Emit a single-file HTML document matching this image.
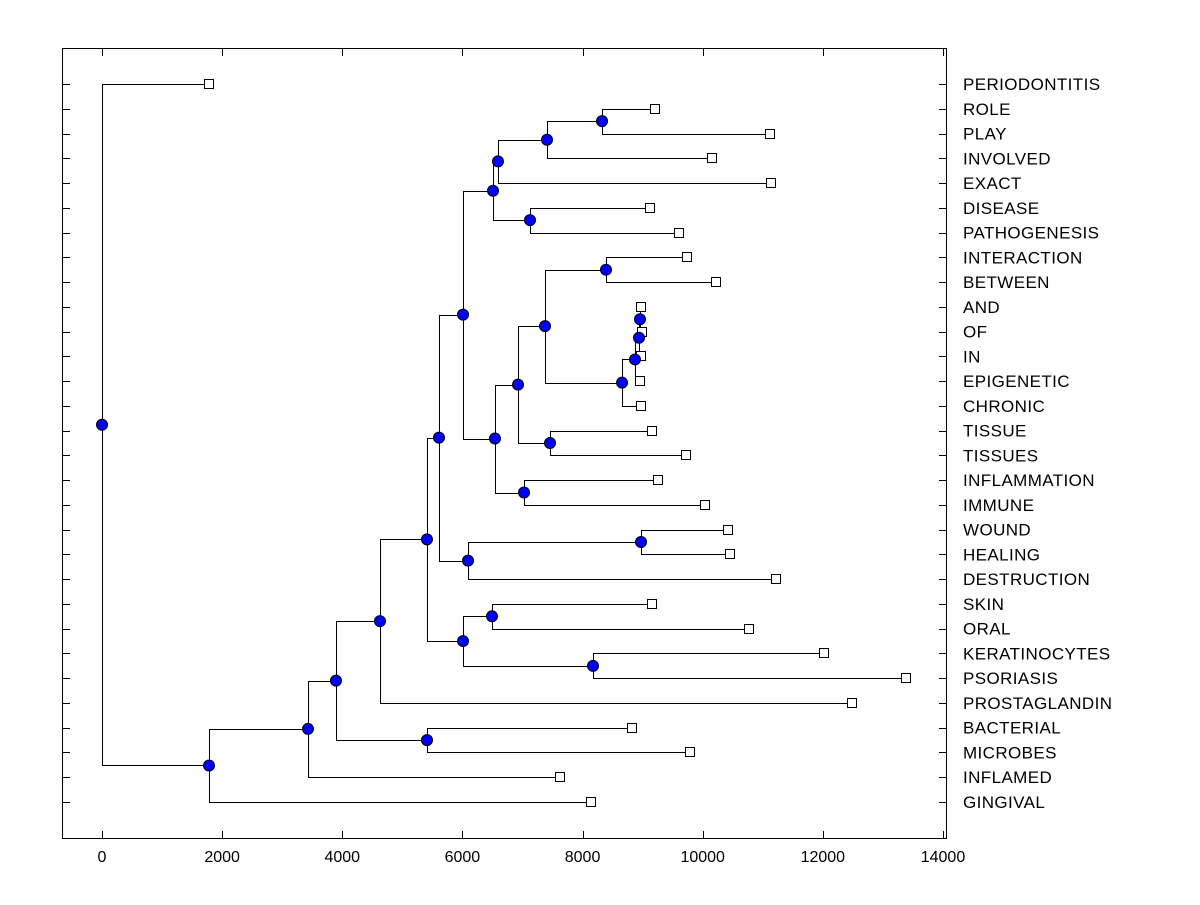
<!DOCTYPE html>
<html><head><meta charset="utf-8"><style>
body{margin:0;background:#fff;}
svg text{font-family:"Liberation Sans",Arial,sans-serif;}
</style></head><body>
<svg id="chart" width="1200" height="900" viewBox="0 0 1200 900" xmlns="http://www.w3.org/2000/svg">
<rect x="0" y="0" width="1200" height="900" fill="#fff"/>
<rect x="62.5" y="48.5" width="884" height="790" fill="none" stroke="#000" stroke-width="1"/>
<g id="axes"></g><g id="tree"></g><g id="marks"></g>
</svg>
<script>
const labels=["PERIODONTITIS","ROLE","PLAY","INVOLVED","EXACT","DISEASE","PATHOGENESIS","INTERACTION","BETWEEN","AND","OF","IN","EPIGENETIC","CHRONIC","TISSUE","TISSUES","INFLAMMATION","IMMUNE","WOUND","HEALING","DESTRUCTION","SKIN","ORAL","KERATINOCYTES","PSORIASIS","PROSTAGLANDIN","BACTERIAL","MICROBES","INFLAMED","GINGIVAL"];
const leafValues=[1781,9206,11120,10155,11137,9123,9605,9739,10221,8973,8990,8973,8956,8973,9156,9722,9256,10038,10421,10455,11220,9156,10771,12019,13384,12486,8823,9789,7625,8140];
// internal nodes: id 30+index; [childA, childB]
const nodeChildren=[[1,2],[30,3],[31,4],[5,6],[32,33],[9,10],[35,11],[36,12],[37,13],[7,8],[39,38],[14,15],[40,41],[16,17],[42,43],[34,44],[18,19],[46,20],[45,47],[21,22],[23,24],[49,50],[48,51],[52,25],[26,27],[53,54],[55,28],[56,29],[0,57]];
const nodeValues=[8324,7408,6592,7125,6509,8956,8940,8873,8657,8390,7375,7458,6925,7025,6542,6010,8973,6093,5610,6492,8174,6010,5410,4628,5410,3895,3429,1781,0];
const xTicks=[0,2000,4000,6000,8000,10000,12000,14000];

const NS="http://www.w3.org/2000/svg";
const xs=v=>102+v*0.06007;
const ys=i=>84+i*(718/29);
function mk(tag,attrs,parent){const e=document.createElementNS(NS,tag);for(const k in attrs)e.setAttribute(k,attrs[k]);parent.appendChild(e);return e;}
const axes=document.getElementById('axes'),tree=document.getElementById('tree'),marks=document.getElementById('marks');
xTicks.forEach(t=>{const x=Math.round(xs(t))+0.5;
 const a=mk('line',{x1:x,x2:x,y1:49,y2:56,stroke:'#000'},axes);
 
 
 const b=mk('line',{x1:x,x2:x,y1:831,y2:838,stroke:'#000'},axes);
 
 
 const tx=mk('text',{x:xs(t),y:862,'text-anchor':'middle','font-size':'16'},axes);tx.textContent=t;
 
 
});
labels.forEach((l,i)=>{const y=Math.round(ys(i))+0.5;
 const a=mk('line',{x1:62,x2:70,y1:y,y2:y,stroke:'#000'},axes);
 
 
 const b=mk('line',{x1:939,x2:947,y1:y,y2:y,stroke:'#000'},axes);
 
 
 const t=mk('text',{x:963,y:ys(i)+6,'font-size':'17','letter-spacing':'0.4'},axes);t.textContent=l;
 
 
});
const pos={};
leafValues.forEach((v,i)=>{pos[i]={x:xs(v),y:ys(i)};});
nodeChildren.forEach((c,k)=>{const id=30+k;const a=pos[c[0]],b=pos[c[1]];pos[id]={x:xs(nodeValues[k]),y:(a.y+b.y)/2};});
nodeChildren.forEach((c,k)=>{const p=pos[30+k];const a=pos[c[0]],b=pos[c[1]];
 const px=Math.round(p.x)+0.5;
 const d=`M${Math.round(a.x)+0.5},${Math.round(a.y)+0.5}H${px}V${Math.round(b.y)+0.5}H${Math.round(b.x)+0.5}`;
 const e=mk('path',{d:d,fill:'none',stroke:'#000','stroke-width':1},tree);
 
 
});
leafValues.forEach((v,i)=>{const p=pos[i];
 const r=mk('rect',{x:Math.round(p.x)-4.5,y:Math.round(p.y)-4.5,width:9,height:9,fill:'#fff',stroke:'#000'},marks);
 
 
});
nodeChildren.forEach((c,k)=>{const p=pos[30+k];
 const ci=mk('circle',{cx:p.x,cy:p.y,r:5.5,fill:'#0000ff',stroke:'#000'},marks);
 
 
});
</script>
</body></html>
